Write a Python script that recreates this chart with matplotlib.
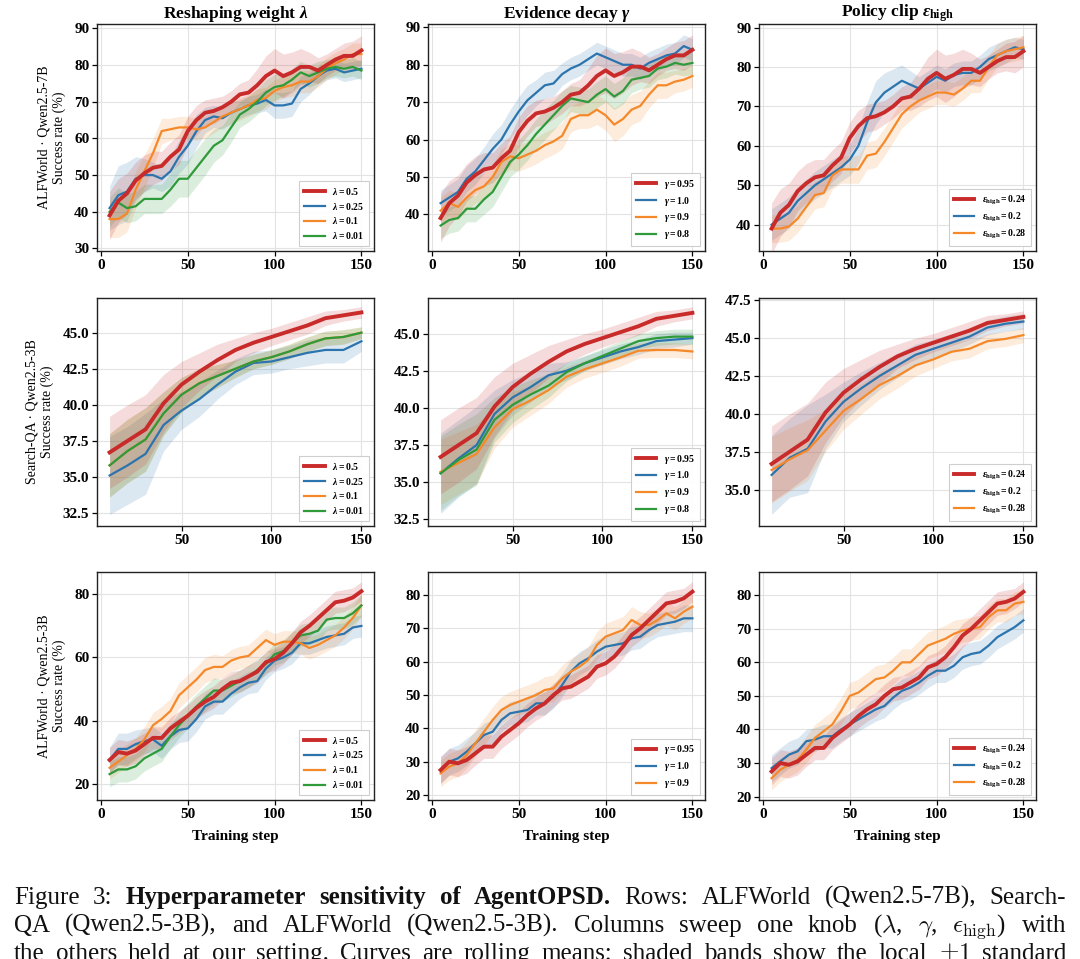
import matplotlib
matplotlib.use("Agg")
import matplotlib.pyplot as plt
import numpy as np

plt.rcParams['font.family'] = ['Liberation Serif', 'DejaVu Serif']
plt.rcParams['mathtext.fontset'] = 'custom'
plt.rcParams['mathtext.rm'] = 'Liberation Serif:bold'
plt.rcParams['mathtext.it'] = 'Liberation Serif:italic:bold'
plt.rcParams['mathtext.bf'] = 'Liberation Serif:bold'

# ---------------- data ----------------
steps_a = [5, 10, 15, 20, 25, 30, 35, 40, 45, 50, 55, 60, 65, 70, 75,
           80, 85, 90, 95, 100, 105, 110, 115, 120, 125, 130, 135, 140, 145, 150]
steps_b = [10, 20, 30, 40, 50, 60, 70, 80, 90, 100, 110, 120, 130, 140, 150]

# ALFWorld Qwen2.5-7B
alf7_default = [39, 43, 45, 48.5, 50.5, 52, 52.5, 55, 57, 62, 65, 67, 67.5, 68.5, 70,
                72, 72.5, 74.5, 77, 78.5, 77, 78, 79.5, 79.5, 78.5, 80, 81.5, 82.5, 82.5, 84]
alf7_default_sd = [6.5, 6, 5.5, 5, 5, 4.5, 4, 4, 4, 4, 4, 3.5, 3.5, 3, 3,
                   3, 3.5, 4.5, 5.5, 6, 6, 5.5, 5, 4, 3.5, 3, 3, 3.5, 4, 4]
alf7_l025 = [41, 44.5, 45.5, 49, 50, 50, 49, 51, 55, 58, 62, 65, 66, 65.5, 67,
             68, 69, 69.5, 70.5, 69, 69, 69.5, 73.5, 75, 77, 78.5, 79, 78, 78.5, 79]
alf7_l025_sd = [6, 8, 8, 6, 4.5, 3.5, 3.5, 4, 4.5, 5, 4.5, 3.5, 3, 3, 3,
                2.5, 2.5, 2.5, 3, 3.5, 3.5, 3.5, 3.5, 3, 2.5, 2.5, 2.5, 2.5, 2.5, 2.5]
alf7_l01 = [38, 38, 39.5, 46, 51, 56, 62, 62.5, 63, 63, 62.5, 63, 64.5, 66, 67,
            68, 69, 70.5, 71, 73, 74, 74.5, 75.5, 75.5, 77, 79, 80.5, 81.5, 83, 83]
alf7_l01_sd = [5, 5, 5, 5, 4.5, 4, 3.5, 3, 3, 3, 3, 3, 3, 3, 3,
               3, 3, 3, 3, 3, 3, 3, 3, 3, 3, 3, 3, 3, 3, 3]
alf7_l001 = [40, 42.5, 41, 41.5, 43.5, 43.5, 43.5, 46, 49, 49, 52, 55, 58, 59.5, 63,
             66.5, 68, 70, 72.5, 74, 74.5, 76, 78, 77, 78, 79, 79.5, 79, 79.5, 78.5]
alf7_l001_sd = [4, 4, 4, 4, 4, 4, 4, 4.5, 5, 5, 5, 5, 4.5, 4, 4,
                3.5, 3.5, 3.5, 3.5, 3.5, 3, 3, 3, 3, 3, 2.5, 2.5, 2.5, 2.5, 2.5]
alf7_g10 = [43, 44.5, 46, 49.5, 51.5, 54.5, 57.5, 60, 64, 67.5, 70.5, 72.5, 74.5, 75, 77.5,
            79, 80, 81.5, 83, 82, 81, 80, 80, 79, 80.5, 81.5, 82.5, 83, 85, 84]
alf7_g10_sd = [3.5, 3.5, 3.5, 3.5, 3.5, 3.5, 4, 4, 4, 4, 4, 3.5, 3.5, 3.5, 3,
               3, 3, 3, 3, 3, 3, 3, 3, 3, 3, 3, 3, 3, 3, 3]
alf7_g09 = [41, 43, 42, 44.5, 46.5, 47.5, 50, 54, 55.5, 55, 56, 57, 58.5, 59.5, 61,
            65.5, 66.5, 66.5, 68, 66.5, 64, 65.5, 68, 69, 72, 74.5, 74.5, 75.5, 76, 77]
alf7_g09_sd = [3.5, 3.5, 3.5, 3.5, 3.5, 3.5, 3.5, 3.5, 3.5, 3.5, 3.5, 3.5, 3.5, 3.5, 3.5,
               3.5, 3.5, 3.5, 4, 4, 4.5, 4.5, 4, 4, 3.5, 3.5, 3.5, 3, 3, 3]
alf7_g08 = [37, 38.5, 39, 41.5, 41.5, 44, 46, 50, 54, 56, 58.5, 61.5, 64, 66.5, 69,
            71, 70.5, 70, 72, 73.5, 71.5, 73, 76, 76.5, 77, 79, 79.5, 80.5, 80, 80.5]
alf7_g08_sd = [3.5, 3.5, 3.5, 3.5, 3.5, 4, 4, 4, 4, 4, 4, 4, 4, 4, 4,
               3.5, 3.5, 3.5, 3.5, 3.5, 3.5, 3.5, 3.5, 3, 3, 3, 3, 3, 3, 3]
alf7_e02 = [40, 41.5, 43, 46, 48, 50, 51.5, 53, 54.5, 56.5, 60, 66, 71, 73.5, 75,
            76.5, 75.5, 74.5, 76, 77.5, 76.5, 78, 78.5, 78.5, 80, 82, 83, 84, 85, 84.5]
alf7_e02_sd = [4, 4, 4, 3.5, 3.5, 3.5, 3.5, 3.5, 3.5, 4, 4.5, 5, 5.5, 5, 4.5,
               4, 3.5, 3, 3, 3, 3, 3, 3, 3, 3, 3, 3, 3, 2.5, 2.5]
alf7_e028 = [39, 39, 39.5, 41.5, 44.5, 47.5, 48, 52.5, 54, 54, 54, 57.5, 58, 61, 64.5,
             68, 70, 71.5, 72.5, 73.5, 73.5, 73, 74.5, 76.5, 76.5, 80, 83, 84, 84.5, 85]
alf7_e028_sd = [3.5, 3.5, 3.5, 3.5, 3.5, 3.5, 3.5, 3.5, 3.5, 3.5, 3.5, 3.5, 3.5, 3.5, 3.5,
                3.5, 3.5, 3, 3, 3, 3, 3, 3, 3, 3, 3, 3, 3, 3, 3]

# Search-QA Qwen2.5-3B
sqa_default = [36.7, 37.5, 38.3, 40.1, 41.4, 42.3, 43.1, 43.8, 44.3, 44.7, 45.1, 45.5, 46.0, 46.2, 46.4]
sqa_default_sd = [2.5, 2.5, 2.4, 2.0, 1.6, 1.3, 1.1, 0.8, 0.7, 0.6, 0.6, 0.6, 0.5, 0.4, 0.4]
sqa_l025 = [35.1, 35.8, 36.6, 38.6, 39.6, 40.4, 41.4, 42.3, 42.9, 43.0, 43.3, 43.6, 43.8, 43.8, 44.4]
sqa_l025_sd = [2.7, 2.7, 2.8, 1.8, 1.3, 1.2, 1.0, 0.9, 0.8, 0.8, 0.8, 0.9, 0.9, 0.9, 0.7]
sqa_l01 = [35.8, 36.8, 37.6, 39.4, 40.7, 41.5, 42.0, 42.5, 43.0, 43.3, 43.7, 44.2, 44.6, 44.7, 45.0]
sqa_l01_sd = [2.2, 2.2, 2.2, 1.5, 1.2, 1.0, 0.8, 0.6, 0.5, 0.5, 0.5, 0.5, 0.5, 0.5, 0.4]
sqa_l001 = [35.8, 36.8, 37.6, 39.4, 40.7, 41.5, 42.0, 42.5, 43.0, 43.3, 43.7, 44.2, 44.6, 44.7, 45.0]
sqa_l001_sd = [2.2, 2.2, 2.2, 1.5, 1.2, 1.0, 0.8, 0.6, 0.5, 0.5, 0.5, 0.5, 0.5, 0.5, 0.4]
sqa_g10 = [35.6, 36.6, 37.5, 39.6, 40.7, 41.4, 42.2, 42.5, 43.0, 43.4, 43.8, 44.1, 44.5, 44.6, 44.7]
sqa_g10_sd = [2.7, 2.6, 2.6, 1.6, 1.2, 1.0, 0.8, 0.6, 0.5, 0.5, 0.5, 0.5, 0.5, 0.5, 0.4]
sqa_g09 = [35.7, 36.3, 36.9, 38.7, 39.9, 40.5, 41.2, 42.1, 42.6, 43.0, 43.4, 43.85, 43.9, 43.9, 43.8]
sqa_g09_sd = [2.2, 2.1, 2.0, 1.4, 1.2, 1.0, 0.9, 0.7, 0.6, 0.6, 0.6, 0.5, 0.5, 0.5, 0.5]
sqa_g08 = [35.6, 36.5, 37.2, 39.2, 40.2, 40.9, 41.5, 42.4, 43.0, 43.5, 44.0, 44.5, 44.7, 44.8, 44.8]
sqa_g08_sd = [2.5, 2.4, 2.4, 1.5, 1.2, 1.0, 0.8, 0.6, 0.5, 0.5, 0.5, 0.5, 0.5, 0.5, 0.5]
sqa_e02 = [35.97, 37.1, 37.7, 39.5, 40.8, 41.7, 42.5, 43.2, 43.9, 44.3, 44.7, 45.1, 45.7, 45.95, 46.1]
sqa_e02_sd = [2.6, 2.6, 2.9, 1.8, 1.3, 1.1, 0.9, 0.8, 0.7, 0.6, 0.6, 0.5, 0.5, 0.5, 0.5]
sqa_e028 = [36.3, 37.0, 37.6, 38.9, 40.2, 41.0, 41.9, 42.5, 43.2, 43.6, 44.1, 44.3, 44.8, 44.95, 45.2]
sqa_e028_sd = [2.2, 2.1, 2.0, 1.4, 1.2, 1.0, 0.9, 0.8, 0.7, 0.6, 0.6, 0.6, 0.5, 0.5, 0.5]

# ALFWorld Qwen2.5-3B
alf3_default = [27.5, 30, 29.5, 30.5, 32.5, 34.5, 34.5, 37.5, 39.5, 41.5, 44, 46, 47.5, 50, 52,
                52.5, 54, 55.5, 58.5, 59.5, 61.5, 64.5, 68, 70, 72.5, 75, 77.5, 78, 79, 81]
alf3_default_sd = [4, 4, 4, 4, 3.5, 3.5, 3.5, 3.5, 3.5, 3.5, 3.5, 3.5, 3.5, 3.5, 3.5,
                   3.5, 3.5, 3.5, 3.5, 3.5, 3.5, 3.5, 3.5, 3.5, 3.5, 3.5, 3.5, 3.5, 3, 3]
alf3_l025 = [27.5, 31, 31, 32.5, 33.5, 34, 32, 35, 37, 37.5, 40.5, 44.5, 46, 46, 48.5,
             50.5, 52, 52.5, 56.5, 59, 60, 61.5, 64.5, 64.5, 65.5, 66.5, 67, 67.5, 69.5, 70]
alf3_l025_sd = [4, 5, 5, 4.5, 4, 4, 4, 4, 4, 4, 4, 4, 4, 4, 4,
                3.5, 3.5, 3.5, 3.5, 3.5, 3.5, 3.5, 3.5, 3.5, 3.5, 3.5, 3.5, 3.5, 3.5, 3.5]
alf3_l01 = [25, 27, 29, 31, 34, 38.5, 40.5, 43, 48, 50.5, 53, 56, 57, 57, 59,
            60, 60.5, 63, 65.5, 64, 65, 65, 64.5, 63, 64, 65.5, 67, 69.5, 72.5, 76.5]
alf3_l01_sd = [3.5, 3.5, 3.5, 3.5, 4, 4, 4, 4, 4, 4, 4, 4, 4, 3.5, 3.5,
               3.5, 3.5, 3.5, 3.5, 3.5, 3.5, 3.5, 3.5, 3.5, 3.5, 3.5, 3.5, 3.5, 3.5, 3.5]
alf3_l001 = [23, 24.5, 24.5, 25.5, 28, 29.5, 31, 35, 38.5, 41.5, 44.5, 47, 49.5, 49.5, 51,
             52.5, 54, 56, 58, 61, 62, 64.5, 67, 67.5, 68.5, 72, 72.5, 72.5, 74, 76.5]
alf3_l001_sd = [4, 4, 4, 4, 4, 4, 4, 4, 4, 4, 4, 4, 4, 3.5, 3.5,
                3.5, 3.5, 3.5, 3.5, 3.5, 3.5, 3.5, 3.5, 3.5, 3.5, 3.5, 3.5, 3.5, 3.5, 3.5]
alf3_g10 = [27.5, 30, 31, 33, 35.5, 38, 39, 42.5, 44.5, 45, 45.5, 47.5, 47.5, 49.5, 53,
            57, 59.5, 61, 63, 64.5, 65, 65.5, 67, 67.5, 69.5, 71, 71.5, 72, 73, 73]
alf3_g10_sd = [4, 4, 4, 4, 3.5, 3.5, 3.5, 3.5, 3.5, 3.5, 3.5, 3.5, 3.5, 3.5, 3.5,
               3.5, 3.5, 3.5, 3.5, 3.5, 3.5, 3.5, 3.5, 3.5, 3.5, 3.5, 3.5, 3.5, 4, 4]
alf3_g09 = [26.5, 28.5, 29.5, 32, 35.5, 39, 42.5, 45.5, 47, 48, 49, 50, 51.5, 52, 55,
            57, 58.5, 60.5, 65, 67.5, 68.5, 69.5, 72.5, 71, 71, 72.5, 74.5, 73, 75, 76.5]
alf3_g09_sd = [4, 4, 4, 4, 4, 4, 4, 4, 4, 4, 4, 4, 4, 4, 4,
               4, 4, 4, 4, 4, 4, 4, 4, 4, 3.5, 3.5, 3.5, 3.5, 3.5, 3.5]
alf3_e02 = [28.5, 30.5, 32.5, 33.5, 36.5, 37, 38, 38, 40, 41.5, 43, 44.5, 46, 47, 49.5,
            51.5, 52.5, 54, 56, 57.5, 57.5, 59, 61.5, 62.5, 63, 65, 67.5, 69, 70.5, 72.5]
alf3_e02_sd = [4, 4, 4, 4, 3.5, 3.5, 3.5, 3.5, 3.5, 3.5, 3.5, 3.5, 3.5, 3.5, 3.5,
               3.5, 3.5, 3.5, 3.5, 3.5, 3.5, 3.5, 3.5, 3.5, 3.5, 3.5, 3.5, 3.5, 3.5, 3.5]
alf3_e028 = [25.5, 28, 29.5, 31, 34, 37.5, 39.5, 41.5, 45.5, 50, 51, 53, 55, 55.5, 57.5,
             60, 60, 62.5, 65, 66, 67, 68.5, 69.5, 70, 70.5, 73.5, 75.5, 75.5, 77.5, 78]
alf3_e028_sd = [3.5, 3.5, 3.5, 3.5, 4, 4, 4, 4, 4, 4, 4, 4, 4, 4, 4,
                4, 4, 4, 4, 4, 4, 4, 3.5, 3.5, 3.5, 3.5, 3.5, 3.5, 3.5, 3.5]

col_titles = [r'Reshaping weight $\lambda$', r'Evidence decay $\gamma$',
              r'Policy clip $\varepsilon_{\mathrm{high}}$']
row_labels = ['ALFWorld · Qwen2.5-7B\nSuccess rate (%)',
              'Search-QA · Qwen2.5-3B\nSuccess rate (%)',
              'ALFWorld · Qwen2.5-3B\nSuccess rate (%)']

lam_labels = [r'$\lambda = 0.5$', r'$\lambda = 0.25$', r'$\lambda = 0.1$', r'$\lambda = 0.01$']
gam_labels = [r'$\gamma = 0.95$', r'$\gamma = 1.0$', r'$\gamma = 0.9$', r'$\gamma = 0.8$']
eps_labels = [r'$\varepsilon_{\mathrm{high}} = 0.24$', r'$\varepsilon_{\mathrm{high}} = 0.2$',
              r'$\varepsilon_{\mathrm{high}} = 0.28$']

RED, BLUE, ORANGE, GREEN = '#c92a2a', '#2b74ad', '#f5892a', '#2f9a3a'

# each panel: (steps, default, default_sd, [(series, sd, color)], labels, ylim, yticks)
panels = [
    [(steps_a, alf7_default, alf7_default_sd,
      [(alf7_l025, alf7_l025_sd, BLUE), (alf7_l01, alf7_l01_sd, ORANGE), (alf7_l001, alf7_l001_sd, GREEN)],
      lam_labels, (29.3, 91.2), [30, 40, 50, 60, 70, 80, 90]),
     (steps_a, alf7_default, alf7_default_sd,
      [(alf7_g10, alf7_g10_sd, BLUE), (alf7_g09, alf7_g09_sd, ORANGE), (alf7_g08, alf7_g08_sd, GREEN)],
      gam_labels, (30.2, 90.9), [40, 50, 60, 70, 80, 90]),
     (steps_a, alf7_default, alf7_default_sd,
      [(alf7_e02, alf7_e02_sd, BLUE), (alf7_e028, alf7_e028_sd, ORANGE)],
      eps_labels, (33.3, 90.9), [40, 50, 60, 70, 80, 90])],
    [(steps_b, sqa_default, sqa_default_sd,
      [(sqa_l025, sqa_l025_sd, BLUE), (sqa_l01, sqa_l01_sd, ORANGE), (sqa_l001, sqa_l001_sd, GREEN)],
      lam_labels, (31.6, 47.4), [32.5, 35.0, 37.5, 40.0, 42.5, 45.0]),
     (steps_b, sqa_default, sqa_default_sd,
      [(sqa_g10, sqa_g10_sd, BLUE), (sqa_g09, sqa_g09_sd, ORANGE), (sqa_g08, sqa_g08_sd, GREEN)],
      gam_labels, (32.05, 47.4), [32.5, 35.0, 37.5, 40.0, 42.5, 45.0]),
     (steps_b, sqa_default, sqa_default_sd,
      [(sqa_e02, sqa_e02_sd, BLUE), (sqa_e028, sqa_e028_sd, ORANGE)],
      eps_labels, (32.6, 47.65), [35.0, 37.5, 40.0, 42.5, 45.0, 47.5])],
    [(steps_a, alf3_default, alf3_default_sd,
      [(alf3_l025, alf3_l025_sd, BLUE), (alf3_l01, alf3_l01_sd, ORANGE), (alf3_l001, alf3_l001_sd, GREEN)],
      lam_labels, (14.8, 87.1), [20, 40, 60, 80]),
     (steps_a, alf3_default, alf3_default_sd,
      [(alf3_g10, alf3_g10_sd, BLUE), (alf3_g09, alf3_g09_sd, ORANGE)],
      gam_labels[:3], (18.5, 86.9), [20, 30, 40, 50, 60, 70, 80]),
     (steps_a, alf3_default, alf3_default_sd,
      [(alf3_e02, alf3_e02_sd, BLUE), (alf3_e028, alf3_e028_sd, ORANGE)],
      eps_labels, (19.0, 86.9), [20, 30, 40, 50, 60, 70, 80])],
]

W, H = 1080, 959
fig = plt.figure(figsize=(W / 100, H / 100), dpi=100)

col_left = [97, 428, 759]
ax_w = 277
row_top = [24, 298, 572]
row_bot = [251, 526, 800]

for r in range(3):
    for c in range(3):
        x0 = col_left[c] / W
        y0 = 1 - row_bot[r] / H
        ax = fig.add_axes([x0, y0, ax_w / W, (row_bot[r] - row_top[r]) / H])
        steps, dflt, dflt_sd, others, labels, ylim, yticks = panels[r][c]
        xs = np.array(steps)
        handles = []
        for vals, sd, colr in others:
            v = np.array(vals)
            s = np.array(sd)
            ax.fill_between(xs, v - s, v + s, color=colr, alpha=0.17, lw=0, zorder=1)
            h, = ax.plot(xs, v, color=colr, lw=1.6, zorder=2)
            handles.append(h)
        v = np.array(dflt)
        s = np.array(dflt_sd)
        ax.fill_between(xs, v - s, v + s, color=RED, alpha=0.17, lw=0, zorder=1)
        h, = ax.plot(xs, v, color=RED, lw=2.8, zorder=3)
        handles = [h] + handles

        ax.set_ylim(*ylim)
        ax.set_yticks(yticks)
        if r == 1:
            ax.set_xticks([50, 100, 150])
            ax.set_yticklabels(['%.1f' % t for t in yticks])
        else:
            ax.set_xticks([0, 50, 100, 150])
        ax.margins(x=0.05)
        ax.grid(True, color='#e3e3e3', lw=0.8, zorder=0)
        ax.set_axisbelow(True)
        for sp in ax.spines.values():
            sp.set_linewidth(1.0)
            sp.set_color('#222222')
        ax.tick_params(labelsize=11, length=3.5, width=0.9, pad=2)
        for lab in ax.get_xticklabels() + ax.get_yticklabels():
            lab.set_fontweight('bold')

        leg = ax.legend(handles, labels, loc='lower right', fontsize=7, frameon=True,
                        fancybox=False, edgecolor='#cccccc', framealpha=0.95,
                        handlelength=2.1, borderpad=0.5, labelspacing=0.4,
                        borderaxespad=0.5)
        leg.get_frame().set_linewidth(0.8)

        if r == 0:
            ax.set_title(col_titles[c], fontsize=12.5, fontweight='bold', pad=4)
        if c == 0:
            ax.set_ylabel(row_labels[r], fontsize=10, labelpad=6)
        if r == 2:
            ax.set_xlabel('Training step', fontsize=11, fontweight='bold', labelpad=7)

# ---------------- caption (justified) ----------------
caption_lines = [
    [("Figure 3:", 'normal'), ("Hyperparameter sensitivity of AgentOPSD.", 'bold'),
     ("Rows: ALFWorld (Qwen2.5-7B), Search-", 'normal')],
    [(r"QA (Qwen2.5-3B), and ALFWorld (Qwen2.5-3B). Columns sweep one knob "
      r"($\lambda$, $\gamma$, $\epsilon_{\mathrm{high}}$) with", 'normal')],
    [(r"the others held at our setting. Curves are rolling means; shaded bands show "
      r"the local $\pm1$ standard", 'normal')],
]
baselines = [904, 931.7, 959.6]
cap_x0, cap_x1 = 14, 1066
renderer = fig.canvas.get_renderer()

for line, yb in zip(caption_lines, baselines):
    words = []
    for seg, wt in line:
        for w in seg.split(' '):
            words.append((w, wt))
    texts = []
    widths = []
    for w, wt in words:
        t = fig.text(0, 1 - yb / H, w, fontsize=18, fontweight=wt, va='baseline',
                     ha='left', family='Liberation Serif', math_fontfamily='cm',
                     color='#111111')
        texts.append(t)
        widths.append(t.get_window_extent(renderer).width)
    gap = (cap_x1 - cap_x0 - sum(widths)) / (len(words) - 1)
    x = cap_x0
    for t, wd in zip(texts, widths):
        t.set_x(x / W)
        x += wd + gap

fig.savefig('out.png', dpi=100)
